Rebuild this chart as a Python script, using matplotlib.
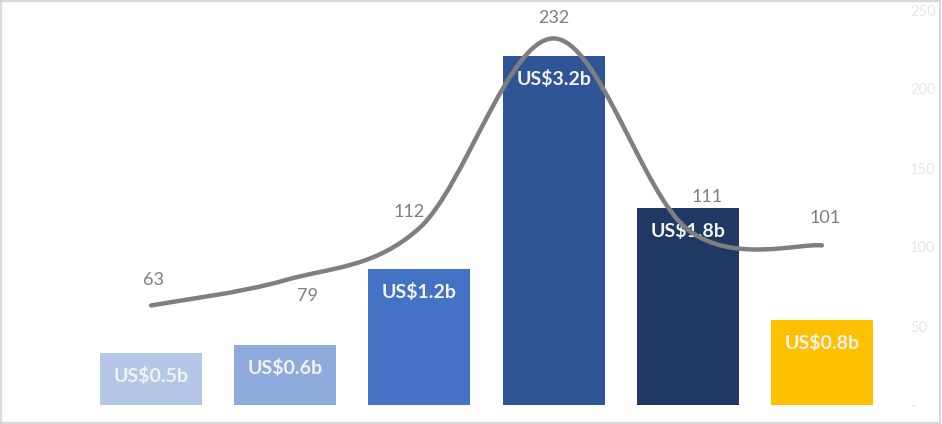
import matplotlib

matplotlib.use("Agg")

import matplotlib.pyplot as plt
import numpy as np
from matplotlib.patches import PathPatch, Rectangle
from matplotlib.path import Path

# ---------------------------------------------------------------------
# Datos
# ---------------------------------------------------------------------
bar_values = [0.48, 0.55, 1.25, 3.20, 1.81, 0.78]
bar_labels = ["US$0.5b", "US$0.6b", "US$1.2b", "US$3.2b", "US$1.8b", "US$0.8b"]
line_values = [63, 79, 112, 232, 111, 101]
right_ticks = [0, 50, 100, 150, 200, 250]
right_tick_labels = ["-", "50", "100", "150", "200", "250"]

bar_colors = ["#b4c7e7", "#8faadc", "#4472c4", "#2f5597", "#1f3864", "#ffc000"]
# desplazamiento de las etiquetas de la linea (puntos)
line_label_offsets = [(1.4, 18.4), (15.8, -11.5), (-7.2, 11.5), (0, 15), (13.7, 23.8), (2.2, 19.4)]

plt.rcParams["font.family"] = ["Lato", "DejaVu Sans"]


def smooth_path(xs, ys):
    """Curva Bezier tipo Excel (Catmull-Rom) que pasa por los puntos."""
    pts = np.column_stack([xs, ys]).astype(float)
    n = len(pts)
    verts = [pts[0]]
    codes = [Path.MOVETO]
    for i in range(n - 1):
        p0 = pts[max(i - 1, 0)]
        p1 = pts[i]
        p2 = pts[i + 1]
        p3 = pts[min(i + 2, n - 1)]
        c1 = p1 + (p2 - p0) / 6.0
        c2 = p2 - (p3 - p1) / 6.0
        verts += [c1, c2, p2]
        codes += [Path.CURVE4] * 3
    return Path(verts, codes)


fig = plt.figure(figsize=(9.42, 4.24), dpi=100)
ax = fig.add_axes([84 / 942, 19 / 424, 805 / 942, 395 / 424])
x = np.arange(len(bar_values))

bars = ax.bar(x, bar_values, width=0.76, color=bar_colors, zorder=2)
ax.set_xlim(-0.5, len(x) - 0.5)
ax.set_ylim(0, 3.2 * 395 / 349)
ax.axis("off")

for b, lab in zip(bars, bar_labels):
    ax.annotate(lab, (b.get_x() + b.get_width() / 2, b.get_height()),
                xytext=(0, -16.5), textcoords="offset points",
                ha="center", va="center", color="#f2f2f2",
                fontsize=14, fontweight="bold", zorder=3)

# eje secundario para la linea
ax2 = ax.twinx()
ax2.set_ylim(0, 250)
ax2.set_xlim(ax.get_xlim())
ax2.add_patch(PathPatch(smooth_path(x, line_values), facecolor="none",
                        edgecolor="#7f7f7f", linewidth=3.2,
                        capstyle="round", zorder=4))
for xi, v, off in zip(x, line_values, line_label_offsets):
    ax2.annotate(str(v), (xi, v), xytext=off, textcoords="offset points",
                 ha="center", va="center", color="#7f7f7f", fontsize=13)

ax2.set_yticks(right_ticks)
ax2.set_yticklabels(right_tick_labels)
ax2.tick_params(axis="y", length=0, pad=15, labelsize=10.5, labelcolor="#e6e6e6")
ax2.set_xticks([])
for s in ax2.spines.values():
    s.set_visible(False)

# borde del grafico
fig.patches.append(Rectangle((0.001, 0.002), 0.997, 0.995, transform=fig.transFigure,
                             fill=False, edgecolor="#d9d9d9", linewidth=1.6))

fig.savefig("out.png", dpi=100)
